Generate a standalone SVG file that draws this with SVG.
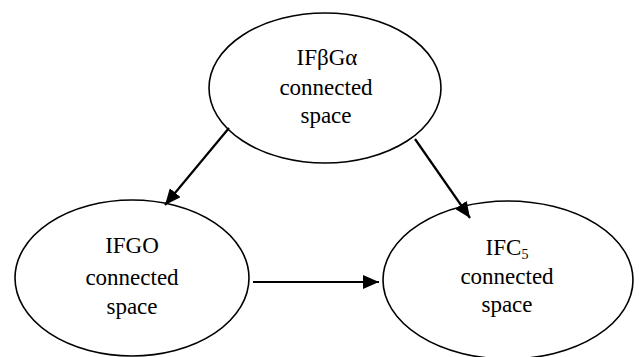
<svg xmlns="http://www.w3.org/2000/svg" width="639" height="357" viewBox="0 0 639 357">
<style>
.node{fill:#fff;stroke:#000;stroke-width:1.6}
.lbl{font-size:23px;fill:#000;text-anchor:middle}
.edge{stroke:#000;stroke-width:2.2;fill:none}
</style>
<defs>
<marker id="ah" markerUnits="userSpaceOnUse" markerWidth="18" markerHeight="14" refX="16" refY="7" orient="auto">
<path d="M0,0 L16,7 L0,14 Z" fill="#000"/>
</marker>
</defs>
<rect width="639" height="357" fill="#fff"/>
<g font-family="Liberation Serif, Times New Roman, serif">
<g id="n1">
<ellipse class="node" cx="325" cy="88" rx="116" ry="75"/>
<text class="lbl" x="327" y="65">IFβGα</text>
<text class="lbl" x="326" y="95">connected</text>
<text class="lbl" x="326" y="123">space</text>
</g>
<g id="n2">
<ellipse class="node" cx="132" cy="278" rx="117" ry="78"/>
<text class="lbl" x="132" y="253">IFGO</text>
<text class="lbl" x="132" y="285">connected</text>
<text class="lbl" x="132" y="314">space</text>
</g>
<g id="n3">
<ellipse class="node" cx="508" cy="280" rx="125" ry="79"/>
<text class="lbl" x="507" y="255">IFC<tspan font-size="14" dy="4">5</tspan></text>
<text class="lbl" x="507" y="284">connected</text>
<text class="lbl" x="507" y="312">space</text>
</g>
</g>
<g id="edges">
<line class="edge" x1="229" y1="128" x2="165" y2="205" marker-end="url(#ah)"/>
<line class="edge" x1="415" y1="139" x2="470" y2="218" marker-end="url(#ah)"/>
<line class="edge" x1="253" y1="282" x2="379" y2="282" marker-end="url(#ah)"/>
</g>
</svg>
